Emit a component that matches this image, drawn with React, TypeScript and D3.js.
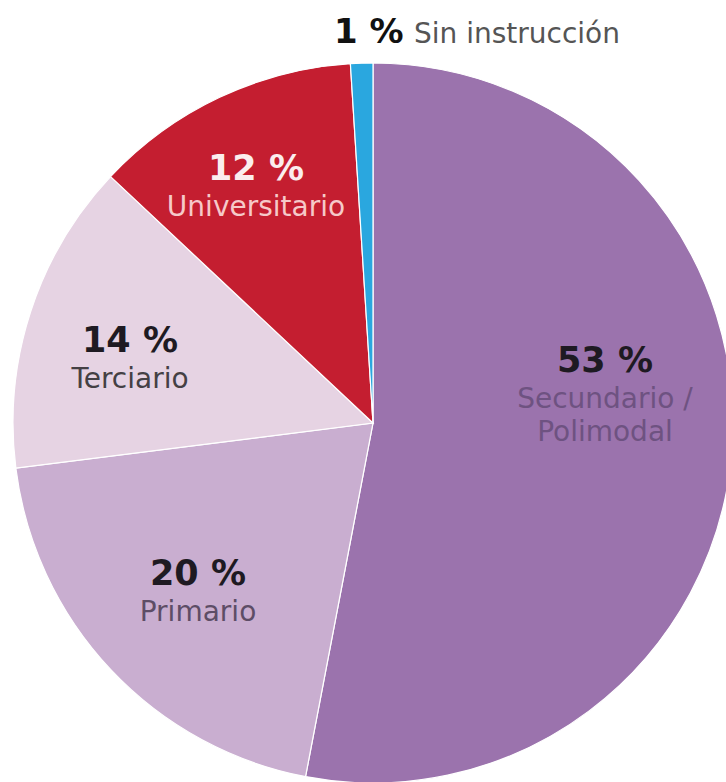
import React from "react";
import * as d3 from "d3";

// nivel educativo alcanzado
const categories = ["Secundario / Polimodal", "Primario", "Terciario", "Universitario", "Sin instrucción"];
const values = [53, 20, 14, 12, 1];
const colors = ["#9b73ad", "#c9aed0", "#e6d3e3", "#c41e30", "#2aa7df"];
const pctColors = ["#1e1a22", "#1e1a22", "#1e1a22", "#fbeeee", "#111111"];
const nameColors = ["#6e5281", "#5d4d66", "#444044", "#f6c9c9", "#555555"];

// label lines + anchor inside each slice
const labelLines = [["Secundario /", "Polimodal"], ["Primario"], ["Terciario"], ["Universitario"], ["Sin instrucción"]];
const labelPos: [number, number][] = [[605, 372], [198, 585], [130, 352], [256, 180], [0, 0]];

const width = 726;
const height = 782;
const cx = 373;
const cy = 423;
const radius = 360;

export default function App() {
  const pie = d3
    .pie<number>()
    .sort(null)
    .value((d) => d)
    .startAngle(0)
    .endAngle(2 * Math.PI);
  const arcs = pie(values);
  const arc = d3.arc<d3.PieArcDatum<number>>().innerRadius(0).outerRadius(radius);

  const font = "'DejaVu Sans', sans-serif";

  return (
    <svg
      width={width}
      height={height}
      style={{ position: "absolute", left: 0, top: 0, background: "#fff" }}
    >
      <g transform={`translate(${cx},${cy})`}>
        {arcs.map((a, i) => (
          <path key={i} d={arc(a) || ""} fill={colors[i]} stroke="#fff" strokeWidth={1.2} />
        ))}
      </g>
      {arcs.map((a, i) => {
        if (i === 4) return null;
        const [x, y] = labelPos[i];
        return (
          <g key={i} fontFamily={font} textAnchor="middle">
            <text x={x} y={y} fontSize={35} fontWeight={700} fill={pctColors[i]}>
              {values[i]} %
            </text>
            {labelLines[i].map((t, j) => (
              <text key={j} x={x} y={y + 36 + j * 33} fontSize={28} fill={nameColors[i]}>
                {t}
              </text>
            ))}
          </g>
        );
      })}
      <g fontFamily={font}>
        <text x={334} y={43} fontSize={34} fontWeight={700} fill={pctColors[4]}>
          {values[4]} %
        </text>
        <text x={414} y={43} fontSize={28} fill={nameColors[4]}>
          {labelLines[4][0]}
        </text>
      </g>
    </svg>
  );
}
